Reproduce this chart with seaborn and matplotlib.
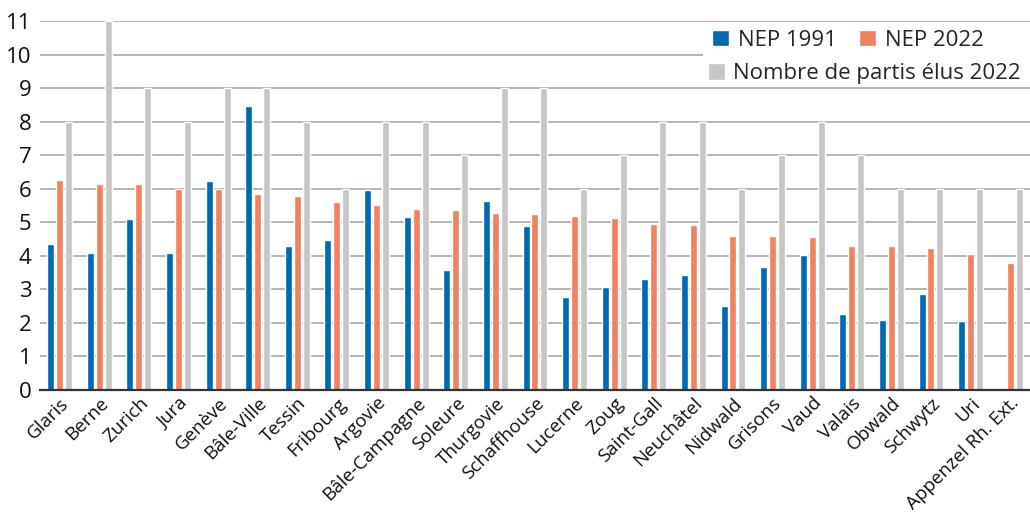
import numpy as np
import pandas as pd
import matplotlib
matplotlib.use("Agg")
import matplotlib.pyplot as plt
import seaborn as sns
from matplotlib.patches import Patch, Rectangle

cantons = ["Glaris", "Berne", "Zurich", "Jura", "Genève", "Bâle-Ville", "Tessin", "Fribourg",
           "Argovie", "Bâle-Campagne", "Soleure", "Thurgovie", "Schaffhouse", "Lucerne", "Zoug",
           "Saint-Gall", "Neuchâtel", "Nidwald", "Grisons", "Vaud", "Valais", "Obwald", "Schwytz",
           "Uri", "Appenzel Rh. Ext."]
nep_1991 = [4.35, 4.09, 5.10, 4.09, 6.23, 8.47, 4.29, 4.47,
            5.96, 5.16, 3.58, 5.64, 4.89, 2.77, 3.07,
            3.31, 3.43, 2.50, 3.67, 4.03, 2.27, 2.09, 2.86,
            2.06, np.nan]
nep_2022 = [6.26, 6.14, 6.14, 5.99, 5.99, 5.84, 5.79, 5.61,
            5.52, 5.40, 5.37, 5.28, 5.25, 5.19, 5.13,
            4.95, 4.92, 4.59, 4.59, 4.56, 4.29, 4.29, 4.23,
            4.06, 3.79]
partis_2022 = [8, 11, 9, 8, 9, 9, 8, 6,
               8, 8, 7, 9, 9, 6, 7,
               8, 8, 6, 7, 8, 7, 6, 6,
               6, 6]
series_names = ["NEP 1991", "NEP 2022", "Nombre de partis élus 2022"]
colors = ["#0069B4", "#F08262", "#C6C6C6"]

df = pd.DataFrame({
    "canton": cantons * 3,
    "serie": np.repeat(series_names, len(cantons)),
    "valeur": list(nep_1991) + list(nep_2022) + list(partis_2022),
})

sns.set_style("white")
plt.rcParams["font.family"] = ["Open Sans", "DejaVu Sans"]

fig = plt.figure(figsize=(10.30, 5.14), dpi=100)
ax = fig.add_axes([0.0388, 0.2412, 0.9612, 0.7178])

sns.barplot(data=df, x="canton", y="valeur", hue="serie", hue_order=series_names,
            palette=colors, width=0.68, gap=0.22, saturation=1, ax=ax, legend=False,
            order=cantons)

ax.set_ylim(0, 11)
ax.set_xlim(-0.5, len(cantons) - 0.5)
ax.set_yticks(range(0, 12))
ax.yaxis.grid(True, color="#a8a8a8", linewidth=1.2)
ax.xaxis.grid(False)
ax.set_axisbelow(True)
ax.set_xlabel("")
ax.set_ylabel("")
for s in ["top", "right", "left"]:
    ax.spines[s].set_visible(False)
ax.spines["bottom"].set_color("#333333")
ax.spines["bottom"].set_linewidth(1.6)
ax.tick_params(axis="y", length=0, labelsize=16, colors="#111111", pad=6)
ax.tick_params(axis="x", length=0, labelsize=13.5, colors="#111111", pad=3)
plt.setp(ax.get_xticklabels(), rotation=45, ha="right", rotation_mode="anchor")

# white background area behind the legend (hides the gridline at 10 there)
ax.add_patch(Rectangle((0.67, 0.885), 0.33, 0.045, transform=ax.transAxes,
                       facecolor="white", edgecolor="none", zorder=0.7))

h1 = [Patch(facecolor=colors[0]), Patch(facecolor=colors[1])]
leg1 = ax.legend(h1, series_names[:2], loc="upper right", bbox_to_anchor=(0.962, 1.0),
                 ncol=2, frameon=False,
                 fontsize=16, handlelength=0.75, handleheight=0.75, handletextpad=0.4,
                 columnspacing=1.0, borderaxespad=0.2, borderpad=0.2)
ax.add_artist(leg1)
h2 = [Patch(facecolor=colors[2])]
ax.legend(h2, series_names[2:], loc="upper right", bbox_to_anchor=(1.0, 0.91),
          frameon=False,
          fontsize=16, handlelength=0.75, handleheight=0.75, handletextpad=0.4,
          borderaxespad=0.2, borderpad=0.2)

fig.savefig("out.png", dpi=100)
